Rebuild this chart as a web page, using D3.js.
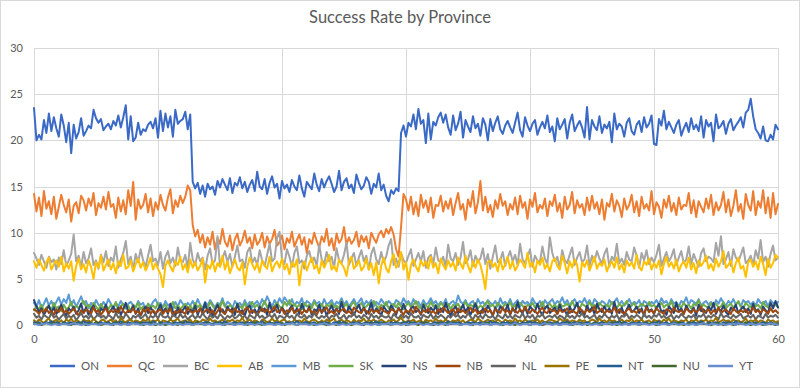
<!DOCTYPE html>
<html><head><meta charset="utf-8">
<script src="https://cdn.jsdelivr.net/npm/d3@7"></script>
<style>html,body{margin:0;padding:0;background:#fff;}svg{display:block;font-family:Lato,"Open Sans",sans-serif;}</style>
</head><body><svg id="c" width="800" height="388"></svg>
<script>
const title = "Success Rate by Province";
const xTicks = [0,10,20,30,40,50,60];
const yTicks = [0,5,10,15,20,25,30];
const seriesNames = ["ON","QC","BC","AB","MB","SK","NS","NB","NL","PE","NT","NU","YT"];
const seriesColors = ["#3a69c6","#ed7d31","#a5a5a5","#ffc000","#5b9bd5","#70ad47","#264478","#9e480e","#636363","#997300","#255e91","#43682b","#698ed0"];
const xMax = 60;

const ON = [23.5,20.0,20.6,20.1,22.2,20.8,22.9,21.0,22.5,21.3,
20.4,22.8,21.6,19.8,21.9,18.6,21.7,20.2,20.9,22.4,
20.5,21.0,21.6,21.3,23.3,22.4,21.9,22.3,21.1,21.5,
21.8,21.2,22.1,21.6,22.7,21.4,22.5,23.8,20.1,22.6,
19.9,20.3,21.9,20.6,21.2,21.0,21.7,22.0,21.3,22.4,
20.3,23.2,21.0,22.9,21.4,22.6,20.4,23.3,21.8,22.1,
22.3,23.1,21.2,22.8,
15.5,14.8,15.4,14.2,15.1,13.9,15.3,14.7,15.0,14.1,
15.6,14.9,15.8,15.2,14.6,15.9,14.3,15.4,15.1,16.0,
14.8,15.5,14.4,15.2,15.7,14.5,16.6,15.0,14.7,15.8,
14.2,15.4,16.1,14.9,15.3,13.7,15.6,14.8,15.2,14.4,
15.7,15.0,14.6,16.2,14.8,13.9,15.5,15.1,14.7,16.4,
15.2,14.5,15.8,14.9,15.6,16.1,15.3,14.4,15.0,16.7,
14.6,15.5,15.9,14.8,15.2,14.3,16.3,15.4,14.7,15.1,
16.0,15.5,14.2,15.3,14.9,16.4,14.6,15.2,14.0,13.4,
14.6,14.2,14.8,14.5,
20.8,21.6,20.4,21.9,21.5,22.8,21.2,23.4,21.8,22.2,
19.7,22.9,20.1,22.0,21.6,22.5,23.0,21.9,22.8,21.4,
20.6,22.7,21.1,21.8,23.1,20.3,22.2,21.5,20.9,22.6,
21.3,21.8,20.5,22.4,21.7,20.0,22.3,21.0,21.9,22.6,
21.2,20.7,21.6,22.1,21.4,20.8,21.9,23.0,21.1,20.4,
22.5,21.6,21.0,21.8,22.2,20.6,21.4,22.0,21.3,22.7,
20.9,21.5,19.9,22.4,21.2,21.7,22.3,20.2,21.9,22.8,
21.0,21.6,22.1,21.4,20.3,23.6,20.1,22.2,21.5,21.1,
22.6,20.8,21.7,21.3,22.0,19.8,22.9,21.2,21.8,21.5,
20.4,21.9,22.4,21.0,20.6,21.7,22.1,20.9,22.5,21.4,
21.8,22.7,19.6,19.5,22.3,21.6,23.2,21.2,22.0,21.4,
20.8,21.7,22.2,20.5,21.3,21.9,20.9,22.4,21.2,21.7,
21.0,22.6,20.3,22.2,21.5,21.9,19.9,22.8,21.3,21.6,
22.1,20.7,21.8,22.3,21.1,21.6,22.0,22.5,21.4,23.0,
23.3,24.5,22.6,21.2,20.8,20.2,21.5,20.0,19.9,20.6,
20.1,21.7,21.2];

const QC = [14.2,12.3,13.8,11.8,14.5,12.6,13.4,12.0,13.9,11.5,
12.8,14.1,13.0,12.2,13.6,11.2,12.9,13.3,12.1,14.0,
13.5,12.4,13.7,12.9,14.3,11.9,13.2,12.7,13.9,12.5,
14.4,12.8,13.1,11.6,13.8,12.3,13.5,12.0,14.6,12.9,
15.5,11.4,13.6,12.6,13.0,14.2,12.2,13.7,11.8,13.3,
12.5,14.1,13.0,12.4,13.8,14.7,12.1,13.5,12.8,14.0,
13.2,13.9,15.1,14.6,
10.8,9.6,10.3,8.9,9.8,8.4,9.5,8.7,10.1,8.2,
9.4,8.8,10.4,9.0,8.5,9.7,8.1,9.3,9.9,8.6,
9.2,10.2,8.9,9.5,8.3,9.8,8.7,9.1,10.0,8.4,
9.6,8.8,9.3,10.3,8.6,9.0,9.7,8.2,9.4,8.9,
10.1,8.5,9.2,9.8,8.7,9.5,7.8,9.3,8.8,10.0,
9.1,8.4,9.6,9.0,10.4,8.6,9.4,8.1,9.9,8.9,
9.3,10.6,8.7,9.5,8.8,9.2,10.1,8.5,9.7,9.0,
9.6,8.3,10.0,9.4,8.9,9.8,10.2,9.5,10.4,9.9,
10.6,9.8,8.2,7.4,
10.6,14.2,13.6,12.4,13.9,12.0,13.3,11.8,14.1,12.7,
13.5,12.2,13.8,11.6,13.0,12.9,14.0,12.3,13.4,12.6,
13.7,11.9,13.2,14.3,12.5,13.1,11.4,13.6,12.8,14.5,
12.1,13.3,15.6,12.4,13.9,12.2,13.0,11.7,13.5,12.6,
14.2,12.9,13.4,11.9,13.1,12.5,13.8,12.0,14.0,12.7,
13.3,11.5,13.6,12.8,14.3,12.2,13.0,12.6,13.7,11.8,
13.4,12.9,14.1,12.3,13.2,11.6,13.9,12.5,13.0,14.4,
12.1,13.5,12.7,13.1,11.9,13.8,12.4,14.0,12.6,13.3,
12.0,13.6,11.4,13.2,12.8,14.2,12.3,13.5,12.9,11.7,
13.7,12.5,13.0,14.1,12.2,13.4,11.8,13.9,12.6,13.1,
12.4,14.5,12.0,13.3,12.8,11.6,13.6,12.7,14.0,12.3,
13.2,11.9,13.8,12.5,13.0,12.9,14.3,12.1,13.5,11.7,
13.4,12.8,12.2,13.7,12.6,14.1,11.9,13.3,12.4,13.0,
14.4,12.2,13.6,11.8,12.9,14.6,12.3,13.1,11.5,14.2,
13.0,12.4,14.5,11.9,13.4,12.7,14.6,12.1,13.8,11.6,
14.3,12.0,13.1];

const BC = [7.8,7.2,6.5,7.6,6.9,6.2,7.4,6.8,7.1,6.0,
7.3,6.6,8.1,6.4,7.0,7.7,9.8,6.9,7.5,6.3,
7.9,6.7,7.2,8.3,6.5,7.0,6.1,7.6,6.8,8.0,
6.4,7.3,6.9,8.5,6.2,7.1,7.8,9.1,6.6,7.4,
6.0,7.7,6.8,8.2,7.0,6.3,7.5,8.7,6.9,7.2,
6.5,7.9,6.1,7.4,8.0,6.7,7.3,6.4,8.4,7.0,
6.8,7.6,6.2,8.9,7.1,6.5,7.8,6.9,7.3,6.0,
7.5,8.3,6.6,7.0,9.6,6.4,7.2,8.0,6.8,7.7,
6.3,7.4,8.6,6.9,7.1,6.2,7.9,8.4,6.7,7.3,
6.5,8.1,7.0,6.4,7.6,8.8,6.9,7.2,9.4,10.1,
7.1,6.6,8.2,7.4,6.3,7.8,8.5,6.7,7.0,6.1,
7.5,8.0,6.8,7.3,6.4,8.7,7.1,6.6,7.9,6.9,
7.4,6.2,8.3,7.0,6.7,7.6,8.9,6.5,7.2,7.8,
6.4,7.3,8.1,6.9,7.5,6.0,7.7,8.4,7.1,6.6,
7.9,6.8,7.4,8.6,9.3,6.5,7.2,6.3,7.8,7.0,
6.7,7.5,8.2,6.4,7.1,7.8,6.9,8.0,6.2,7.3,
7.6,6.6,8.4,7.0,6.8,7.4,6.3,8.7,7.2,6.9,
7.8,6.5,7.3,9.0,6.7,7.1,8.1,6.4,7.5,6.9,
7.2,8.3,6.6,7.7,6.1,7.4,8.6,6.8,7.0,7.9,
6.4,7.3,8.0,6.9,7.6,6.5,8.8,7.1,6.7,7.4,
8.2,6.3,7.5,7.0,6.8,8.5,7.2,6.6,9.5,7.8,
6.9,7.4,6.2,8.1,7.0,6.7,7.6,8.4,6.5,7.3,
7.9,6.8,7.1,8.6,6.4,7.5,6.9,8.0,7.2,6.6,
7.7,8.3,6.3,7.4,7.0,8.8,6.7,7.2,6.5,7.9,
7.1,6.9,8.4,7.5,6.2,7.8,7.0,8.1,6.6,7.3,
6.8,7.6,8.7,6.4,7.2,7.9,6.9,7.4,8.2,6.5,
7.3,8.0,6.7,7.1,8.5,6.6,7.7,7.0,6.3,7.8,
8.3,6.9,7.4,7.2,6.8,8.9,7.5,9.6,6.6,7.1,
7.9,6.4,8.2,7.3,6.9,7.6,8.4,6.7,7.0,7.5,
6.5,8.1,7.2,9.2,6.8,7.4,6.3,7.7,8.6,7.0,
7.3];

const AB = [6.9,6.2,7.1,6.5,5.9,6.8,7.3,6.0,6.6,7.0,
6.3,7.4,5.8,6.7,6.1,6.9,4.8,6.4,7.2,6.0,
6.6,5.7,7.0,6.3,5.0,6.8,6.2,7.5,5.9,6.5,
7.1,6.0,6.7,5.6,6.9,6.4,7.6,6.1,6.3,7.0,
5.8,6.6,7.2,6.2,6.8,5.9,6.5,7.3,6.0,6.7,
6.1,5.5,4.1,6.4,7.0,6.3,5.8,6.9,6.5,7.4,
6.0,6.6,5.7,7.1,6.2,6.8,5.9,6.4,7.2,4.6,
6.5,6.1,7.0,5.8,6.7,6.3,7.5,6.0,6.9,5.6,
6.4,7.1,6.2,5.9,6.8,4.4,6.3,7.3,6.6,6.0,
6.7,5.7,7.0,6.4,6.1,7.4,5.8,6.5,6.9,6.2,
7.2,6.0,6.6,5.5,6.8,6.3,7.1,4.3,6.4,6.9,
5.9,6.7,7.3,6.1,6.5,5.6,7.0,6.2,6.8,7.6,
6.0,6.4,5.8,7.1,6.6,6.2,5.3,6.9,7.4,6.1,
6.5,7.0,5.9,6.3,7.2,6.0,6.7,5.4,6.8,4.5,
6.4,7.3,6.1,5.7,6.9,7.7,6.2,6.6,7.9,6.0,
6.8,4.9,6.5,7.1,6.3,5.8,7.0,6.4,6.9,6.1,
7.4,6.2,6.7,5.6,7.2,6.5,6.0,7.0,6.3,6.8,
5.9,7.3,6.6,6.1,7.5,6.4,5.7,6.9,6.2,7.1,
6.5,5.4,3.9,6.8,7.0,6.3,6.7,5.8,7.2,6.0,
6.6,7.4,6.1,6.9,5.9,6.4,7.1,6.7,6.2,7.8,
6.3,6.8,5.7,7.0,6.5,7.3,6.1,6.6,5.8,6.9,
7.2,6.4,6.0,7.5,6.7,5.6,6.9,6.2,7.1,6.5,
4.7,6.8,6.3,7.0,5.9,6.6,7.4,6.1,6.7,6.4,
7.1,5.8,6.5,6.9,6.2,7.3,6.0,6.6,5.7,7.0,
6.4,6.8,6.1,7.6,6.3,5.9,6.9,6.5,7.2,6.0,
6.7,6.2,7.0,5.5,6.6,7.4,6.3,6.8,6.1,7.1,
5.8,6.5,6.9,6.2,7.3,6.0,6.7,5.6,7.0,6.4,
6.8,7.5,6.1,6.6,5.9,7.2,6.3,6.9,8.0,6.2,
6.5,7.0,5.7,6.7,7.3,6.1,6.4,5.2,6.8,7.1,
6.3,6.9,6.0,7.4,6.6,5.4,7.2,6.2,6.7,7.6,
7.3];

const MB = [2.4,2.0,2.7,1.8,2.3,2.9,2.1,2.6,1.9,2.5,
3.0,2.2,2.8,2.4,3.3,2.1,2.7,2.0,2.5,3.1,
2.3,2.6,1.8,2.4,2.0,2.7,2.2,1.9,2.5,2.1,
2.8,2.3,1.7,2.4,2.0,2.6,2.2,1.8,2.3,2.5,
2.1,1.9,2.6,2.2,2.4,1.7,2.3,2.0,2.5,2.8,
2.2,2.4,1.9,2.6,2.1,2.3,1.8,2.5,2.0,2.7,
2.3,1.9,2.4,2.1,2.6,2.0,2.8,2.2,1.8,2.5,
2.1,2.7,2.3,1.9,2.4,2.2,2.9,2.0,2.5,2.3,
1.8,2.6,2.2,2.4,2.0,2.7,2.1,2.5,1.9,2.3,
2.6,2.1,2.8,2.3,3.1,2.5,2.0,2.7,2.2,2.9,
2.4,3.0,2.6,2.2,2.8,2.1,2.5,2.3,2.9,2.0,
2.6,2.4,2.1,2.7,2.3,2.5,2.0,2.8,2.2,2.4,
2.7,2.1,2.5,2.3,2.9,2.2,2.6,2.0,2.4,2.8,
2.2,2.5,2.9,2.1,2.6,2.3,2.7,2.0,2.5,2.2,
2.8,2.4,2.1,2.6,2.3,2.0,2.7,2.5,2.2,2.9,
2.4,2.6,2.1,2.8,2.3,2.5,2.0,2.7,2.2,2.4,
2.9,2.3,2.6,2.1,2.5,2.2,2.8,2.0,2.4,2.6,
2.2,3.2,2.5,2.3,2.7,2.1,2.4,2.6,2.0,2.8,
2.3,2.5,2.1,2.7,2.4,2.2,2.6,2.0,2.9,2.3,
2.5,2.2,2.8,2.1,2.4,2.7,2.0,2.6,2.3,2.5,
2.1,2.9,2.4,2.2,2.6,2.0,2.7,2.3,2.5,2.8,
2.2,2.6,2.4,3.0,2.3,2.7,2.1,2.5,2.8,2.2,
2.6,2.4,2.9,2.3,2.7,2.1,2.8,2.5,2.2,2.6,
2.4,2.0,2.7,2.3,2.5,2.9,2.2,2.6,2.1,2.4,
2.8,2.2,2.5,2.3,2.7,2.0,2.6,2.4,2.1,2.5,
2.3,2.7,2.2,2.9,2.4,2.6,2.1,2.8,2.3,2.5,
2.0,2.6,2.4,3.0,2.2,2.7,2.5,2.3,2.8,2.1,
2.4,2.6,2.2,2.5,2.0,2.7,2.3,2.9,2.4,2.1,
2.6,2.3,2.8,2.2,2.5,2.0,2.7,2.4,2.6,2.2,
2.5,2.1,2.8,2.4,2.3,2.6,2.0,2.7,2.4,2.2,
2.5];

const SK = [1.6,2.0,1.7,2.2,1.5,1.9,2.1,1.6,2.4,1.8,
2.0,1.5,2.2,1.7,1.9,2.5,1.6,2.1,1.8,2.3,
2.6,1.9,2.2,1.7,2.4,2.0,1.6,2.3,1.8,2.1,
1.7,2.2,1.9,2.5,1.6,2.0,2.3,1.8,2.1,1.5,
2.2,1.9,2.4,1.7,2.0,1.6,2.3,1.9,2.1,1.8,
2.4,1.7,2.0,2.2,1.6,1.9,2.5,1.8,2.1,1.7,
2.0,2.3,1.8,2.1,1.6,2.4,1.9,2.2,1.7,2.0,
1.8,2.5,2.1,1.7,2.3,1.9,2.6,2.0,1.8,2.2,
1.9,1.6,2.3,2.0,1.8,2.4,1.7,2.1,2.5,1.9,
2.2,1.8,2.0,2.6,1.9,2.3,1.7,2.1,2.4,2.0,
1.8,2.5,2.1,2.7,2.0,2.3,1.9,2.2,1.7,2.4,
2.0,2.2,1.8,2.5,2.1,1.9,2.3,1.7,2.2,2.0,
2.4,1.9,2.1,1.8,2.6,2.0,2.3,1.7,2.2,2.5,
1.9,2.1,2.4,1.8,2.0,2.3,1.9,2.6,2.1,1.8,
2.2,2.0,2.5,1.8,2.1,2.3,1.9,2.4,2.0,1.7,
2.1,2.4,1.9,2.2,2.6,2.0,1.8,2.3,2.1,1.9,
2.5,2.0,2.2,1.8,2.4,2.1,1.9,2.3,1.7,2.2,
2.0,2.3,1.8,2.1,2.5,1.9,2.2,2.0,2.4,1.8,
2.1,1.9,2.3,2.6,2.0,2.2,1.8,2.4,2.1,1.9,
2.3,2.0,2.5,1.8,2.2,1.9,2.4,2.1,1.7,2.2,
2.0,2.4,1.9,2.2,2.0,2.5,1.8,2.1,2.3,1.9,
2.2,1.8,2.4,2.0,2.1,2.3,1.9,2.6,2.0,2.2,
1.8,2.3,2.1,1.9,2.5,2.0,2.2,1.8,2.4,2.1,
2.0,2.2,1.9,2.5,2.1,1.8,2.3,2.0,2.2,2.6,
1.9,2.1,2.4,1.8,2.0,2.3,2.1,1.9,2.5,2.0,
2.2,1.8,2.1,2.4,1.9,2.2,2.0,2.6,1.8,2.3,
2.1,1.9,2.4,2.0,2.2,1.8,2.3,2.1,2.7,1.9,
2.2,2.0,1.8,2.4,2.1,2.3,1.9,2.0,2.5,1.8,
2.1,2.3,1.9,2.2,2.6,2.0,1.8,2.4,2.1,1.9,
2.3,2.0,2.2,1.8,2.5,2.1,1.9,2.4,2.0,2.2,
1.9];

const NS = [2.7,2.0,1.4,1.8,1.1,1.6,2.1,1.3,1.9,1.2,
1.7,2.2,1.4,1.0,1.8,1.5,2.0,1.2,1.6,2.3,
1.3,1.9,1.1,1.7,2.1,1.4,1.0,1.8,1.5,2.2,
1.2,1.6,2.0,1.3,1.9,1.1,1.7,2.4,1.4,1.5,
2.1,1.2,1.8,1.0,1.6,2.0,1.3,1.9,1.5,1.1,
1.7,2.2,1.4,1.8,1.2,2.3,1.5,1.0,1.9,1.3,
1.6,2.0,1.2,1.7,1.4,2.1,1.1,1.8,1.5,2.4,
1.3,1.9,1.0,1.6,2.2,1.4,1.7,1.2,2.0,1.5,
1.8,1.1,2.3,1.4,1.6,1.0,1.9,2.1,1.3,1.7,
1.2,2.0,1.5,1.8,1.1,2.4,1.4,1.6,2.2,1.3,
1.9,1.5,1.0,1.7,2.1,1.3,1.8,1.2,2.3,1.6,
1.4,2.0,1.1,1.7,1.5,2.2,1.3,1.9,1.0,1.6,
2.1,1.4,1.8,1.2,2.5,1.5,1.3,2.0,1.6,1.1,
1.7,2.2,1.4,1.9,1.2,1.6,2.4,1.3,1.8,1.5,
1.0,2.0,1.6,1.3,2.1,1.7,1.1,1.9,1.4,2.3,
1.5,1.2,1.8,2.0,1.4,1.7,1.1,2.2,1.6,1.3,
1.9,1.5,2.1,1.2,1.8,1.4,2.4,1.6,1.0,1.7,
2.0,1.3,1.6,2.2,1.4,1.9,1.1,1.7,2.3,1.5,
1.2,1.8,1.4,2.1,1.6,1.0,1.9,1.3,2.0,1.7,
1.5,2.2,1.1,1.8,1.4,2.5,1.6,1.3,1.9,1.2,
2.0,1.7,1.4,2.3,1.5,1.1,1.8,2.1,1.3,1.6,
1.9,1.2,2.2,1.5,1.7,1.0,2.0,1.4,1.8,2.4,
1.3,1.6,1.1,2.1,1.5,1.9,1.2,2.3,1.7,1.4,
2.0,1.5,1.8,1.2,2.5,1.6,1.3,1.9,1.1,1.7,
2.2,1.4,1.6,2.0,1.3,1.8,1.0,2.1,1.5,1.7,
1.2,1.9,2.3,1.4,1.6,1.1,2.0,1.7,1.3,2.4,
1.5,1.8,1.2,2.1,1.6,1.4,1.9,1.0,2.2,1.5,
1.7,1.3,2.0,1.6,2.4,1.2,1.8,1.5,2.1,1.4,
1.1,1.9,1.6,2.2,1.3,1.7,2.0,1.4,1.8,1.2,
2.3,1.5,1.7,1.1,2.0,1.6,1.3,2.4,1.8,2.6,
1.9];

const NB = [1.7,1.5,1.2,1.6,1.4,1.8,1.3,1.5,1.1,1.7,
1.4,1.9,1.3,1.6,1.2,1.5,1.8,1.4,1.0,1.6,
1.3,1.7,1.5,1.2,1.9,1.4,1.6,1.1,1.5,1.8,
1.2,1.6,1.4,1.7,1.3,2.0,1.5,1.2,1.6,1.4,
1.8,1.3,1.5,1.1,1.7,1.4,1.9,1.2,1.6,1.3,
1.5,1.7,1.2,1.6,1.4,1.8,1.0,1.5,1.3,1.7,
1.4,1.2,1.9,1.5,1.3,1.6,1.4,1.8,1.2,1.5,
1.7,1.3,1.6,1.1,1.5,1.9,1.4,1.2,1.7,1.6,
1.3,1.8,1.4,1.5,1.2,1.7,1.9,1.3,1.6,1.4,
1.1,1.5,1.8,1.4,1.7,1.3,1.6,2.0,1.4,1.5,
1.8,1.2,1.6,1.4,1.9,1.3,1.5,1.7,1.2,1.6,
1.4,1.8,1.3,1.5,1.1,1.7,1.4,1.6,1.9,1.3,
1.5,1.2,1.7,1.4,1.6,1.8,1.3,1.5,1.2,1.9,
1.6,1.4,1.3,1.8,1.5,1.2,1.7,1.4,1.6,1.3,
1.9,1.5,1.4,1.2,1.7,1.6,1.3,1.8,1.5,1.1,
1.6,1.4,1.7,1.3,2.0,1.5,1.2,1.6,1.4,1.8,
1.3,1.5,1.2,1.7,1.4,1.9,1.6,1.3,1.5,1.7,
1.2,1.8,1.4,1.6,1.3,1.5,1.9,1.4,1.7,1.2,
1.5,1.3,1.8,1.4,1.6,1.1,1.7,1.5,1.3,1.9,
1.4,1.6,1.2,1.8,1.5,1.3,1.7,1.4,2.0,1.5,
1.3,1.7,1.5,1.2,1.6,1.9,1.4,1.3,1.8,1.5,
1.6,1.2,1.7,1.4,1.5,1.8,1.3,1.6,1.4,1.2,
1.9,1.5,1.3,1.7,1.4,1.6,2.0,1.3,1.5,1.8,
1.2,1.6,1.4,1.5,1.9,1.3,1.7,1.4,1.2,1.6,
1.8,1.4,1.5,1.3,1.7,1.5,1.2,1.9,1.4,1.6,
1.3,1.8,1.5,1.4,1.2,1.7,1.6,1.3,1.9,1.5,
1.4,1.6,1.2,1.8,1.5,1.3,1.7,1.4,1.6,2.0,
1.3,1.5,1.7,1.2,1.6,1.4,1.9,1.3,1.5,1.7,
1.4,1.2,1.8,1.5,1.3,1.6,1.4,1.7,1.2,1.5,
1.9,1.4,1.6,1.3,1.7,1.5,1.2,1.8,1.4,1.6,
1.3];

const NL = [1.2,0.8,1.0,0.6,1.1,0.9,0.7,1.3,0.8,1.0,
0.6,0.9,1.2,0.7,1.0,0.8,1.1,0.5,0.9,1.3,
0.8,1.0,0.7,1.1,0.6,0.9,1.2,0.8,1.0,0.7,
1.1,0.9,0.6,1.3,0.8,1.0,0.7,1.2,0.9,0.5,
1.0,0.8,1.1,0.7,0.9,1.2,0.6,1.0,0.8,1.1,
0.7,1.3,0.9,0.8,1.0,0.6,1.1,0.9,0.7,1.2,
0.8,1.0,0.6,0.9,1.1,0.7,1.0,0.8,1.3,0.9,
0.6,1.1,0.8,1.0,0.7,1.2,0.9,0.6,1.0,0.8,
1.1,0.7,0.9,1.2,0.8,1.0,0.6,1.1,0.9,0.7,
1.3,0.8,1.0,0.7,0.9,1.1,0.8,1.2,0.6,1.0,
0.9,0.7,1.1,0.8,1.0,0.6,1.2,0.9,0.8,1.1,
0.7,1.0,0.8,1.3,0.9,0.7,1.0,0.8,1.1,0.6,
1.0,0.9,1.2,0.7,0.8,1.1,0.6,1.0,0.9,1.3,
0.8,1.0,0.7,1.1,0.9,0.6,1.2,0.8,1.0,0.7,
1.1,0.9,0.8,1.0,0.6,1.2,0.9,0.7,1.1,0.8,
1.0,0.7,1.3,0.9,0.8,1.0,0.6,1.1,0.9,0.8,
1.2,0.7,1.0,0.8,1.1,0.9,0.6,1.0,0.8,1.2,
0.9,1.1,0.7,1.0,0.8,1.3,0.9,0.6,1.1,0.8,
1.0,0.7,1.2,0.9,0.8,1.0,0.6,1.1,0.9,0.7,
1.2,0.8,1.0,0.7,1.1,0.9,0.8,1.3,0.7,1.0,
0.8,1.1,0.6,1.0,0.9,1.2,0.7,0.9,1.0,0.8,
1.1,0.7,1.0,0.9,0.6,1.2,0.8,1.0,0.7,1.1,
0.9,1.3,0.8,1.0,0.7,0.9,1.1,0.6,1.0,0.8,
1.2,0.9,0.7,1.0,0.8,1.1,0.6,1.0,0.9,1.2,
0.7,1.0,0.8,1.1,0.9,0.6,1.2,0.8,1.0,0.7,
1.1,0.9,1.3,0.8,1.0,0.7,0.9,1.1,0.6,1.0,
0.8,1.2,0.9,0.7,1.0,0.8,1.1,0.6,1.0,0.9,
1.2,0.7,1.0,0.8,1.1,0.9,0.6,1.3,0.8,1.0,
0.9,0.7,1.1,0.8,1.0,1.2,0.7,0.9,1.0,0.8,
1.1,0.6,1.0,0.9,0.7,1.2,0.8,1.0,0.9,1.1,
0.8];

const PE = [0.5,0.3,0.6,0.4,0.2,0.5,0.7,0.3,0.4,0.6,
0.3,0.5,0.2,0.6,0.4,0.7,0.3,0.5,0.4,0.2,
0.6,0.4,0.5,0.3,0.7,0.4,0.2,0.5,0.6,0.3,
0.4,0.6,0.3,0.5,0.2,0.8,0.4,0.3,0.5,0.6,
0.3,0.5,0.4,0.2,0.6,0.4,0.7,0.3,0.5,0.4,
0.6,0.2,0.5,0.4,0.3,0.6,0.4,0.5,0.7,0.3,
0.4,0.5,0.3,0.6,0.2,0.5,0.4,0.3,0.6,0.5,
0.3,0.7,0.4,0.5,0.3,0.4,0.6,0.2,0.5,0.4,
0.6,0.3,0.5,0.4,0.8,0.3,0.4,0.6,0.3,0.5,
0.4,0.2,0.6,0.5,0.3,0.4,0.7,0.4,0.5,0.3,
0.5,0.6,0.3,0.4,0.2,0.6,0.4,0.5,0.3,0.7,
0.4,0.3,0.5,0.6,0.4,0.2,0.5,0.3,0.6,0.4,
0.5,0.7,0.3,0.4,0.6,0.3,0.5,0.4,0.2,0.6,
0.3,0.5,0.4,0.7,0.3,0.5,0.4,0.6,0.3,0.4,
0.6,0.4,0.2,0.5,0.4,0.6,0.3,0.5,0.8,0.4,
0.3,0.5,0.4,0.6,0.3,0.4,0.5,0.2,0.6,0.4,
0.5,0.3,0.7,0.4,0.5,0.3,0.6,0.4,0.3,0.5,
0.4,0.6,0.3,0.5,0.2,0.4,0.6,0.5,0.3,0.7,
0.5,0.3,0.4,0.6,0.4,0.5,0.3,0.6,0.4,0.2,
0.6,0.4,0.5,0.3,0.7,0.4,0.5,0.3,0.6,0.4,
0.3,0.5,0.4,0.6,0.3,0.5,0.2,0.4,0.6,0.5,
0.4,0.3,0.7,0.5,0.4,0.6,0.3,0.5,0.4,0.3,
0.6,0.4,0.5,0.2,0.4,0.6,0.5,0.3,0.7,0.4,
0.5,0.3,0.6,0.4,0.5,0.3,0.4,0.6,0.3,0.5,
0.4,0.7,0.3,0.5,0.4,0.6,0.3,0.4,0.5,0.2,
0.6,0.4,0.5,0.3,0.6,0.4,0.7,0.3,0.5,0.4,
0.3,0.5,0.4,0.6,0.2,0.5,0.4,0.6,0.3,0.5,
0.4,0.6,0.3,0.5,0.4,0.8,0.3,0.4,0.6,0.4,
0.5,0.3,0.6,0.4,0.5,0.3,0.4,0.7,0.3,0.5,
0.4,0.6,0.3,0.5,0.4,0.2,0.6,0.4,0.5,0.3,
0.4];

const NT = [0.3,0.2,0.3,0.1,0.2,0.3,0.2,0.4,0.2,0.3,
0.2,0.1,0.3,0.2,0.2,0.3,0.1,0.2,0.3,0.2,
0.4,0.2,0.3,0.2,0.1,0.3,0.2,0.3,0.2,0.2,
0.3,0.1,0.2,0.3,0.2,0.4,0.2,0.1,0.3,0.2,
0.2,0.3,0.2,0.1,0.3,0.2,0.3,0.2,0.4,0.2,
0.1,0.3,0.2,0.2,0.3,0.1,0.2,0.3,0.2,0.3,
0.2,0.4,0.2,0.3,0.1,0.2,0.3,0.2,0.2,0.3,
0.3,0.2,0.1,0.3,0.2,0.3,0.2,0.4,0.2,0.1,
0.2,0.3,0.2,0.2,0.3,0.1,0.3,0.2,0.3,0.2,
0.3,0.2,0.4,0.2,0.1,0.3,0.2,0.2,0.3,0.2,
0.2,0.1,0.3,0.2,0.3,0.2,0.4,0.2,0.1,0.3,
0.3,0.2,0.2,0.3,0.1,0.2,0.3,0.2,0.3,0.2,
0.1,0.3,0.2,0.4,0.2,0.3,0.2,0.1,0.2,0.3,
0.2,0.3,0.1,0.2,0.3,0.2,0.3,0.2,0.4,0.2,
0.3,0.2,0.2,0.1,0.3,0.2,0.3,0.2,0.2,0.3,
0.2,0.4,0.2,0.3,0.2,0.1,0.3,0.2,0.3,0.2,
0.1,0.2,0.3,0.2,0.3,0.2,0.2,0.4,0.2,0.3,
0.2,0.3,0.2,0.1,0.2,0.3,0.2,0.3,0.2,0.2,
0.3,0.1,0.3,0.2,0.4,0.2,0.3,0.2,0.1,0.3,
0.2,0.3,0.2,0.2,0.3,0.2,0.1,0.3,0.2,0.3,
0.4,0.2,0.3,0.2,0.1,0.2,0.3,0.2,0.3,0.2,
0.2,0.3,0.1,0.3,0.2,0.4,0.2,0.2,0.3,0.1,
0.3,0.2,0.2,0.3,0.2,0.1,0.3,0.2,0.2,0.3,
0.2,0.1,0.3,0.2,0.3,0.2,0.4,0.2,0.3,0.2,
0.1,0.3,0.2,0.2,0.3,0.2,0.2,0.3,0.1,0.2,
0.3,0.2,0.4,0.2,0.2,0.3,0.1,0.2,0.3,0.2,
0.2,0.3,0.2,0.1,0.3,0.2,0.3,0.2,0.2,0.4,
0.2,0.1,0.3,0.2,0.2,0.3,0.2,0.1,0.3,0.2,
0.3,0.2,0.2,0.4,0.2,0.3,0.1,0.2,0.3,0.2,
0.2,0.3,0.1,0.2,0.3,0.2,0.2,0.3,0.2,0.1,
0.2];

const NU = [0.1,0.2,0.1,0.0,0.1,0.2,0.1,0.1,0.3,0.1,
0.0,0.1,0.2,0.1,0.1,0.0,0.2,0.1,0.1,0.2,
0.1,0.0,0.1,0.2,0.1,0.3,0.1,0.0,0.1,0.2,
0.1,0.1,0.0,0.2,0.1,0.1,0.2,0.1,0.0,0.1,
0.2,0.1,0.1,0.3,0.0,0.1,0.1,0.2,0.1,0.0,
0.1,0.2,0.1,0.0,0.1,0.2,0.1,0.1,0.0,0.2,
0.1,0.1,0.2,0.1,0.0,0.1,0.3,0.1,0.1,0.0,
0.2,0.1,0.0,0.1,0.2,0.1,0.1,0.0,0.2,0.1,
0.1,0.0,0.2,0.1,0.1,0.2,0.0,0.1,0.1,0.3,
0.1,0.1,0.0,0.2,0.1,0.1,0.2,0.0,0.1,0.1,
0.2,0.0,0.1,0.1,0.2,0.1,0.0,0.1,0.2,0.1,
0.1,0.2,0.1,0.0,0.1,0.3,0.1,0.1,0.0,0.2,
0.1,0.1,0.0,0.2,0.1,0.1,0.2,0.1,0.0,0.1,
0.2,0.1,0.1,0.0,0.2,0.1,0.1,0.2,0.1,0.0,
0.1,0.3,0.1,0.1,0.0,0.1,0.2,0.1,0.1,0.2,
0.0,0.1,0.2,0.1,0.1,0.0,0.2,0.1,0.3,0.1,
0.1,0.0,0.1,0.2,0.1,0.1,0.0,0.2,0.1,0.1,
0.2,0.1,0.0,0.1,0.2,0.1,0.1,0.0,0.2,0.1,
0.1,0.2,0.1,0.3,0.0,0.1,0.1,0.2,0.1,0.0,
0.1,0.1,0.2,0.1,0.0,0.2,0.1,0.1,0.2,0.1,
0.0,0.1,0.1,0.2,0.1,0.0,0.1,0.3,0.1,0.1,
0.2,0.1,0.0,0.1,0.1,0.2,0.1,0.0,0.1,0.2,
0.1,0.1,0.2,0.0,0.1,0.1,0.2,0.1,0.1,0.0,
0.2,0.1,0.1,0.3,0.1,0.0,0.1,0.2,0.1,0.1,
0.0,0.2,0.1,0.1,0.0,0.1,0.2,0.1,0.1,0.2,
0.1,0.0,0.1,0.2,0.1,0.1,0.0,0.2,0.1,0.1,
0.3,0.1,0.0,0.1,0.2,0.1,0.1,0.0,0.1,0.2,
0.1,0.1,0.2,0.0,0.1,0.2,0.1,0.1,0.0,0.1,
0.2,0.1,0.0,0.1,0.1,0.2,0.1,0.3,0.1,0.0,
0.1,0.2,0.1,0.1,0.0,0.1,0.2,0.1,0.1,0.0,
0.1];

const YT = [0.1,0.1,0.0,0.1,0.1,0.2,0.1,0.0,0.1,0.1,
0.0,0.1,0.1,0.1,0.0,0.1,0.2,0.1,0.1,0.0,
0.1,0.1,0.0,0.1,0.1,0.1,0.0,0.1,0.2,0.1,
0.1,0.0,0.1,0.1,0.1,0.0,0.1,0.1,0.0,0.1,
0.2,0.1,0.1,0.0,0.1,0.1,0.1,0.0,0.1,0.1,
0.1,0.0,0.1,0.2,0.1,0.1,0.0,0.1,0.1,0.1,
0.0,0.1,0.1,0.1,0.0,0.1,0.1,0.2,0.1,0.0,
0.1,0.1,0.0,0.1,0.1,0.1,0.0,0.1,0.1,0.2,
0.1,0.0,0.1,0.1,0.1,0.0,0.1,0.1,0.1,0.0,
0.1,0.2,0.1,0.0,0.1,0.1,0.1,0.0,0.1,0.1,
0.0,0.1,0.1,0.1,0.2,0.1,0.0,0.1,0.1,0.1,
0.1,0.0,0.1,0.1,0.0,0.1,0.1,0.2,0.1,0.0,
0.1,0.1,0.1,0.0,0.1,0.1,0.0,0.1,0.1,0.1,
0.2,0.1,0.0,0.1,0.1,0.1,0.0,0.1,0.1,0.0,
0.1,0.1,0.1,0.2,0.0,0.1,0.1,0.1,0.0,0.1,
0.1,0.0,0.1,0.1,0.1,0.2,0.1,0.0,0.1,0.1,
0.0,0.1,0.1,0.0,0.1,0.1,0.1,0.0,0.2,0.1,
0.1,0.1,0.0,0.1,0.1,0.1,0.0,0.1,0.1,0.1,
0.0,0.2,0.1,0.1,0.0,0.1,0.1,0.1,0.0,0.1,
0.1,0.1,0.0,0.1,0.2,0.1,0.0,0.1,0.1,0.1,
0.0,0.1,0.1,0.1,0.0,0.1,0.2,0.1,0.1,0.0,
0.1,0.1,0.0,0.1,0.1,0.1,0.0,0.1,0.1,0.2,
0.1,0.0,0.1,0.1,0.1,0.0,0.1,0.1,0.0,0.1,
0.1,0.1,0.2,0.0,0.1,0.1,0.1,0.0,0.1,0.1,
0.0,0.1,0.1,0.1,0.0,0.2,0.1,0.1,0.0,0.1,
0.1,0.1,0.0,0.1,0.1,0.1,0.0,0.1,0.2,0.1,
0.0,0.1,0.1,0.1,0.0,0.1,0.1,0.0,0.1,0.1,
0.2,0.1,0.0,0.1,0.1,0.1,0.0,0.1,0.1,0.0,
0.1,0.1,0.1,0.0,0.2,0.1,0.1,0.0,0.1,0.1,
0.1,0.0,0.1,0.1,0.1,0.0,0.1,0.2,0.1,0.1,
0.0];

const seriesValues = [ON,QC,BC,AB,MB,SK,NS,NB,NL,PE,NT,NU,YT];

const svg = d3.select("#c");
const W = 800, H = 388;
const M = {left:34, right:22, top:48, bottom:63};
const x = d3.scaleLinear().domain([0, xMax]).range([M.left, W - M.right]);
const y = d3.scaleLinear().domain([0, 30]).range([H - M.bottom, M.top]);
const txt = "#595959";
const font = "Lato,'Open Sans',sans-serif";

svg.append("rect").attr("x",0.5).attr("y",0.5).attr("width",W-1).attr("height",H-1)
  .attr("fill","#fff").attr("stroke","#d9d9d9");

svg.append("text").attr("x", 400).attr("y", 23).attr("text-anchor","middle")
  .attr("font-size",16.5).attr("fill",txt).text(title);

// gridlines
const gy = svg.append("g").attr("transform",`translate(${M.left},0)`)
  .call(d3.axisLeft(y).tickValues(yTicks).tickSize(-(W-M.left-M.right)).tickFormat(""));
gy.select(".domain").remove();
gy.selectAll(".tick line").attr("stroke","#d9d9d9").attr("shape-rendering","crispEdges");
const gx = svg.append("g").attr("transform",`translate(0,${M.top})`)
  .call(d3.axisBottom(x).tickValues(xTicks).tickSize(H-M.bottom-M.top).tickFormat(""));
gx.select(".domain").remove();
gx.selectAll(".tick line").attr("stroke","#d9d9d9").attr("shape-rendering","crispEdges");

// axis labels
const ay = svg.append("g").attr("transform",`translate(${M.left},0)`)
  .call(d3.axisLeft(y).tickValues(yTicks).tickSize(0).tickPadding(11));
ay.select(".domain").remove();
ay.selectAll("text").attr("fill",txt).attr("font-size",11).attr("font-family",font);
const ax = svg.append("g").attr("transform",`translate(0,${H-M.bottom})`)
  .call(d3.axisBottom(x).tickValues(xTicks).tickSize(0).tickPadding(10));
ax.select(".domain").attr("stroke","#d9d9d9");
ax.selectAll("text").attr("fill",txt).attr("font-size",11).attr("font-family",font);

// lines
const line = d3.line().x(d => x(d[0])).y(d => y(d[1]));
const gl = svg.append("g");
seriesValues.forEach((vals, k) => {
  const n = vals.length;
  const pts = vals.map((v, i) => [i * xMax / (n - 1), v]);
  gl.append("path").datum(pts).attr("d", line).attr("fill","none")
    .attr("stroke", seriesColors[k]).attr("stroke-width", 2)
    .attr("stroke-linejoin","round").attr("stroke-linecap","round");
});

// legend: spans roughly from x=50 to x=753 like the reference
const lg = svg.append("g").attr("transform",`translate(0,366)`);
const items = [];
seriesNames.forEach((name, k) => {
  const g = lg.append("g");
  g.append("line").attr("x1",0).attr("x2",25).attr("y1",0).attr("y2",0)
    .attr("stroke",seriesColors[k]).attr("stroke-width",2.5);
  const t = g.append("text").attr("x",31).attr("y",4).attr("font-size",11.5).attr("fill",txt).text(name);
  items.push({g, w: 31 + t.node().getComputedTextLength()});
});
const legendStart = 50, legendEnd = 753;
const gap = (legendEnd - legendStart - d3.sum(items, d => d.w)) / (items.length - 1);
let pos = legendStart;
items.forEach(it => { it.g.attr("transform",`translate(${pos},0)`); pos += it.w + gap; });
</script></body></html>
